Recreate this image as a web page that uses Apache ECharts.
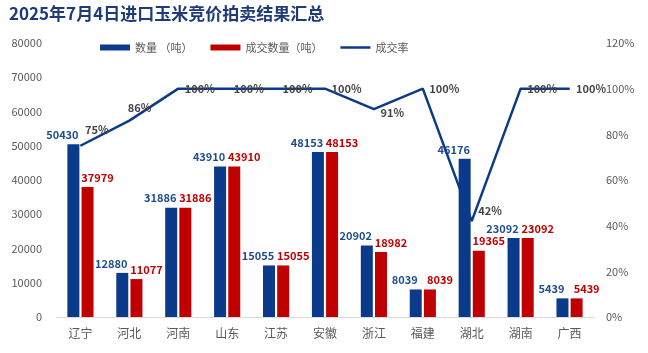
<!DOCTYPE html>
<html>
<head>
<meta charset="utf-8">
<script src="https://cdn.jsdelivr.net/npm/echarts@6/dist/echarts.min.js"></script>
<style>
  html, body { margin: 0; padding: 0; background: #fff; }
  #main { width: 648px; height: 353px; }
</style>
</head>
<body>
<div id="main"></div>
<script>
// 数据
const provinces = ['辽宁', '河北', '河南', '山东', '江苏', '安徽', '浙江', '福建', '湖北', '湖南', '广西']
const amount = [50430, 12880, 31886, 43910, 15055, 48153, 20902, 8039, 46176, 23092, 5439]
const dealAmount = [37979, 11077, 31886, 43910, 15055, 48153, 18982, 8039, 19365, 23092, 5439]
const dealRate = [75, 86, 100, 100, 100, 100, 91, 100, 42, 100, 100]
// 成交率标签的偏移（像素）
const rateLabelShift = [[-2, -16], [-8, -13], [0, 0], [0, 0], [0, 0], [0, 0], [0, 4], [0, 0], [0, -10], [0, 0], [0, 0]]

const font = '"Noto Sans CJK SC", "Noto Sans", sans-serif'
const blue = '#0b3a8a'
const red = '#c00000'

var myChart = echarts.init(document.getElementById('main'))

myChart.setOption({
  animation: false,
  textStyle: { fontFamily: font },
  title: {
    text: '2025年7月4日进口玉米竞价拍卖结果汇总',
    left: 4,
    top: 0,
    textStyle: { color: '#1f3a78', fontSize: 17, fontWeight: 'bold', fontFamily: font }
  },
  legend: {
    top: 37,
    left: 95,
    itemWidth: 30,
    itemHeight: 6,
    itemGap: 18,
    textStyle: { color: '#595959', fontSize: 11 },
    data: [
      { name: '数量 （吨）', icon: 'rect' },
      { name: '成交数量（吨）', icon: 'rect' },
      { name: '成交率', icon: 'path://M0,0 L60,0 L60,5 L0,5 Z' }
    ]
  },
  grid: { left: 56, right: 54, top: 43, bottom: 36 },
  xAxis: {
    type: 'category',
    data: provinces,
    axisTick: { show: false },
    axisLine: { lineStyle: { color: '#d9d9d9' } },
    axisLabel: { color: '#595959', fontSize: 12, margin: 10 }
  },
  yAxis: [{
    type: 'value',
    min: 0,
    max: 80000,
    interval: 10000,
    splitLine: { show: false },
    axisLabel: { color: '#595959', fontSize: 11, margin: 14, formatter: v => String(v) }
  }, {
    type: 'value',
    min: 0,
    max: 120,
    interval: 20,
    splitLine: { show: false },
    axisLabel: { color: '#595959', fontSize: 11, formatter: '{value}%', margin: 12 }
  }],
  series: [{
    name: '数量 （吨）',
    type: 'bar',
    data: amount,
    barWidth: 12,
    barGap: '18%',
    itemStyle: { color: blue },
    label: { show: true, position: 'top', color: '#1f4e8c', fontWeight: 'bold', fontSize: 11, distance: 4, offset: [-11, 0] }
  }, {
    name: '成交数量（吨）',
    type: 'bar',
    data: dealAmount,
    barWidth: 12,
    itemStyle: { color: red },
    label: { show: true, position: 'top', color: red, fontWeight: 'bold', fontSize: 11, distance: 4, offset: [10, 0] }
  }, {
    name: '成交率',
    type: 'line',
    yAxisIndex: 1,
    data: dealRate.map((v, i) => ({ value: v, label: { offset: rateLabelShift[i] } })),
    symbol: 'circle',
    symbolSize: 1,
    showSymbol: true,
    lineStyle: { color: blue, width: 2.5 },
    itemStyle: { color: blue },
    label: {
      show: true,
      position: 'right',
      distance: 6,
      color: '#454545',
      fontSize: 11,
      fontWeight: 'bold',
      formatter: '{c}%'
    }
  }]
})
</script>
</body>
</html>
